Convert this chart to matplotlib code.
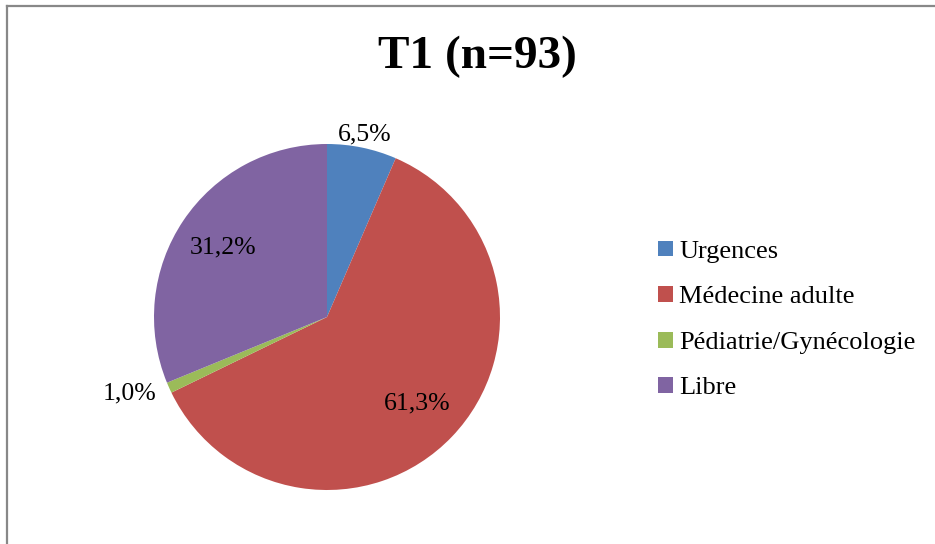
import numpy as np
import matplotlib
matplotlib.use('Agg')
import matplotlib.pyplot as plt
from matplotlib.patches import Patch
from matplotlib.lines import Line2D

# Data (percentages, n = 93)
categories = ['Urgences', 'Médecine adulte', 'Pédiatrie/Gynécologie', 'Libre']
values = [6.5, 61.3, 1.0, 31.2]
colors = ['#4F81BD', '#C0504D', '#9BBB59', '#8064A2']
title = 'T1 (n=93)'

plt.rcParams['font.family'] = ['Liberation Serif', 'DejaVu Serif']

W, H = 935, 544
fig = plt.figure(figsize=(W / 100, H / 100), dpi=100)

# pie area: centre (327, 317) px, radius 173 px
cx, cy, r = 327, 317, 173
ax = fig.add_axes([(cx - r) / W, (H - cy - r) / H, 2 * r / W, 2 * r / H])
wedges, _ = ax.pie(values, colors=colors, startangle=90, counterclock=False,
                   radius=1, wedgeprops=dict(linewidth=0))
ax.set_xlim(-1, 1)
ax.set_ylim(-1, 1)
ax.set_aspect('equal')
ax.axis('off')

inside = [False, True, False, True]
for w, v, ins in zip(wedges, values, inside):
    ang = np.deg2rad((w.theta1 + w.theta2) / 2)
    dx, dy = np.cos(ang), np.sin(ang)
    txt = f'{v:.1f}%'.replace('.', ',')
    if ins:
        d, ha = 0.72, 'center'
    else:
        d = 1.08
        ha = 'center' if abs(dx) < 0.3 else ('left' if dx > 0 else 'right')
    ax.text(d * dx, d * dy, txt, ha=ha, va='center', fontsize=18.5, clip_on=False)

fig.text(477 / W, 1 - 57 / H, title, ha='center', va='center',
         fontsize=34, fontweight='bold')

handles = [Patch(facecolor=c, edgecolor='none') for c in colors]
fig.legend(handles, categories, loc='center left',
           bbox_to_anchor=(645 / W, 1 - 320 / H), frameon=False,
           fontsize=19, handlelength=0.55, handleheight=0.55,
           handletextpad=0.25, labelspacing=0.88, borderpad=0)

# chart frame (left and top edges visible)
fig.add_artist(Line2D([7 / W, 7 / W], [0, 1 - 6 / H], color='#888888',
                      linewidth=1.6, transform=fig.transFigure))
fig.add_artist(Line2D([7 / W, 1], [1 - 6 / H, 1 - 6 / H], color='#888888',
                      linewidth=1.6, transform=fig.transFigure))

fig.savefig('out.png', dpi=100)
